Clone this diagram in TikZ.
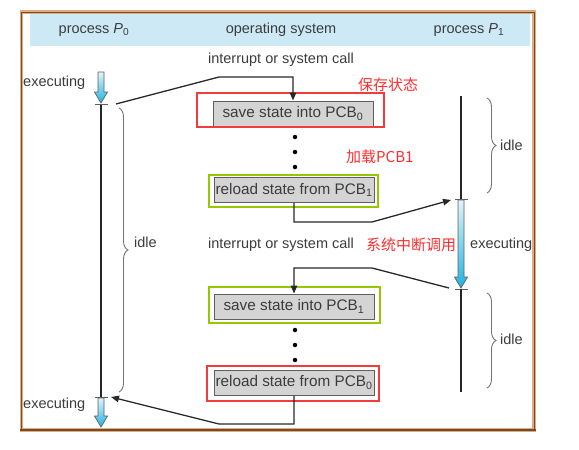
\documentclass[tikz,border=0pt]{standalone}
\usepackage{fontspec}
\setmainfont{Liberation Sans}
\newfontfamily\cjk{Noto Sans CJK SC}
\usetikzlibrary{arrows.meta,decorations.pathreplacing}
\definecolor{txt}{RGB}{60,60,60}
\definecolor{frameC}{RGB}{222,172,128}
\definecolor{frameD}{RGB}{120,75,40}
\definecolor{headC}{RGB}{205,233,246}
\definecolor{boxF}{RGB}{212,212,212}
\definecolor{boxD}{RGB}{95,95,95}
\definecolor{hlR}{RGB}{240,60,60}
\definecolor{hlG}{RGB}{150,200,0}
\definecolor{cnC}{RGB}{40,40,40}
\definecolor{zh}{RGB}{255,45,45}
\definecolor{blT}{RGB}{225,243,250}
\definecolor{blB}{RGB}{30,180,225}
\newcommand\blarrow[3]{%
  \shadedraw[top color=blT,bottom color=blB,draw=boxD,line width=0.7pt]
  (#1-3,#2) -- (#1+3,#2) -- (#1+3,#3-11) -- (#1+6.5,#3-11) -- (#1,#3)
  -- (#1-6.5,#3-11) -- (#1-3,#3-11) -- cycle;}
\begin{document}
\begin{tikzpicture}[x=1pt,y=-1pt,
  font=\fontsize{14.5}{17}\selectfont,
  lbl/.style={text=txt,inner sep=0pt},
  graybox/.style={draw=boxD,fill=boxF,line width=1pt,minimum width=160pt,
    minimum height=25pt,inner sep=0pt,text=txt,font=\fontsize{15.3}{17}\selectfont},
  hlred/.style={draw=hlR,line width=2.6pt,inner sep=0pt},
  hlgreen/.style={draw=hlG,line width=2.6pt,inner sep=0pt},
  conn/.style={line width=1.3pt,draw=cnC},
  arr/.style={conn,-{Triangle[length=8pt,width=6.5pt]}},
  tline/.style={line width=2.8pt,draw=black!85},
  tick/.style={line width=0.8pt,draw=boxD},
  brc/.style={decorate,decoration={brace,amplitude=9pt},line width=0.9pt,draw=black!55},
  zhlbl/.style={text=zh,inner sep=0pt,font=\cjk\fontsize{15}{17}\selectfont},
  dot/.style={circle,fill=black,inner sep=0pt,minimum size=4.5pt}]
\useasboundingbox (0,0) rectangle (579,450);
% frame and header
\fill[headC] (30,14) rectangle (530,46);
\draw[frameC,line width=3.4pt] (21.5,12) rectangle (534,430);
\draw[frameD,line width=0.5pt] (21.5,12) rectangle (534,430);
\draw[frameD,line width=1.2pt] (20,430) -- (535.5,430);
\node[lbl] (hp0) at (94,30) {process \textit{P}\textsubscript{0}};
\node[lbl] (hos) at (281,30) {operating system};
\node[lbl] (hp1) at (469,30) {process \textit{P}\textsubscript{1}};
% texts
\node[lbl] (int1) at (281,60) {interrupt or system call};
\node[lbl] (int2) at (281,245) {interrupt or system call};
\node[lbl,anchor=west] (ex1) at (23,83) {executing};
\node[lbl,anchor=west] (ex2) at (23,405) {executing};
\node[lbl,anchor=west] (ex3) at (470,245) {executing};
\node[lbl,anchor=west] (idle0) at (134,242) {idle};
\node[lbl,anchor=west] (idle1) at (500,145) {idle};
\node[lbl,anchor=west] (idle2) at (500,339) {idle};
% boxes
\node[graybox] (box1) at (293,113.5) {save state into PCB\textsubscript{0}};
\node[graybox] (box2) at (294,190) {reload state from PCB\textsubscript{1}};
\node[graybox] (box3) at (294,306.5) {save state into PCB\textsubscript{1}};
\node[graybox] (box4) at (294,382.5) {reload state from PCB\textsubscript{0}};
\node[hlred,minimum width=187pt,minimum height=34pt] (hl1) at (290.5,110) {};
\node[hlgreen,minimum width=169pt,minimum height=32pt] (hl2) at (293.5,191) {};
\node[hlgreen,minimum width=171pt,minimum height=36pt] (hl3) at (294.5,305) {};
\node[hlred,minimum width=172pt,minimum height=35pt] (hl4) at (293,383.5) {};
% dots
\foreach \yy [count=\i] in {137,152,167} \node[dot] (da\i) at (295,\yy) {};
\foreach \yy [count=\i] in {330,345,360} \node[dot] (db\i) at (295,\yy) {};
% chinese labels
\node[zhlbl,anchor=west] (zh1) at (358,85) {保存状态};
\node[zhlbl,anchor=west] (zh2) at (346,157) {加载PCB1};
\node[zhlbl,anchor=west] (zh3) at (366,245) {系统中断调用};
% timelines P0
\blarrow{101}{72}{103}
\draw[tline] (101,104) -- (101,397);
\draw[tick] (95,104) -- (108,104);
\draw[tick] (95,397) -- (108,397);
\blarrow{101}{398}{427}
% timelines P1
\draw[tline] (461,96) -- (461,199);
\draw[tick] (455,199) -- (468,199);
\blarrow{461}{200}{288}
\draw[tick] (455,289) -- (468,289);
\draw[tline] (461,289) -- (461,392);
% braces
\draw[brc] (119,108) -- (119,392);
\draw[brc] (487,98) -- (487,193);
\draw[brc] (487,293) -- (487,388);
% connector end points
\coordinate (p0a) at (116,104);
\coordinate (p1b) at (451,200);
\coordinate (p1c) at (449,288);
\coordinate (p0d) at (111,397);
% connectors
\draw[arr] (p0a) -- (219,77) -| (box1.north);
\draw[arr] (box2.south) |- (372,222) -- (p1b);
\draw[arr] (p1c) -- (372,268) -| (box3.north);
\draw[arr] (box4.south) |- (219,424) -- (p0d);
\end{tikzpicture}
\end{document}
